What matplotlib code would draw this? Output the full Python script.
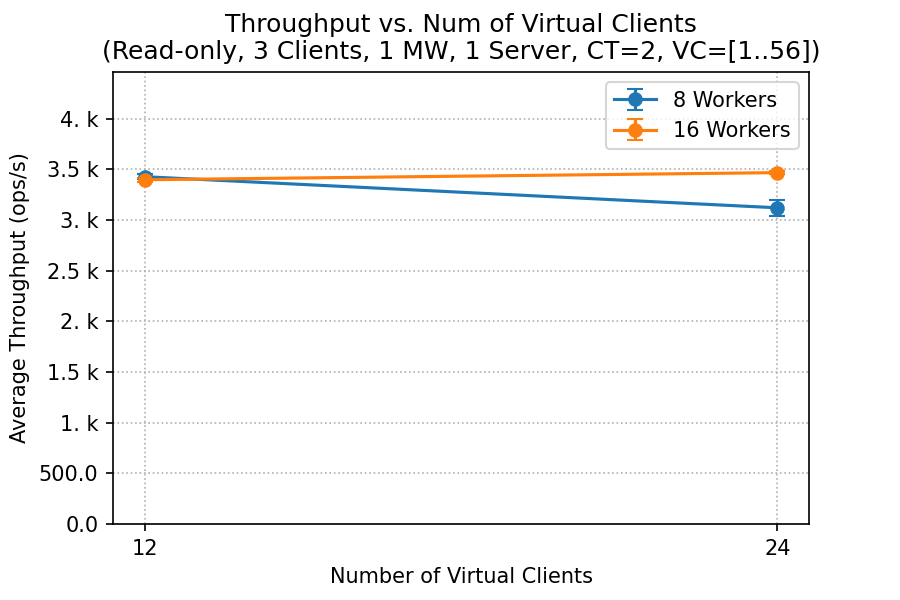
import matplotlib
matplotlib.use("Agg")
import matplotlib.pyplot as plt
from matplotlib.ticker import FixedLocator, FixedFormatter

vc = [12, 24]
w8 = [3427, 3120]
w8_err = [25, 78]
w16 = [3397, 3467]
w16_err = [20, 15]
ytick_vals = [0, 500, 1000, 1500, 2000, 2500, 3000, 3500, 4000]
ytick_labels = ["0.0", "500.0", "1. k", "1.5 k", "2. k", "2.5 k", "3. k", "3.5 k", "4. k"]

fig = plt.figure(figsize=(6, 4), dpi=150)
ax = fig.add_axes([113/900, 76/600, 696/900, 452/600])
ax.errorbar(vc, w8, yerr=w8_err, marker="o", capsize=4, color="#1f77b4", label="8 Workers")
ax.errorbar(vc, w16, yerr=w16_err, marker="o", capsize=4, color="#ff7f0e", label="16 Workers")
ax.set_xticks(vc)
ax.yaxis.set_major_locator(FixedLocator(ytick_vals))
ax.yaxis.set_major_formatter(FixedFormatter(ytick_labels))
ax.set_ylim(0, 4460)
ax.grid(True, linestyle=":", color="#b0b0b0")
ax.set_xlabel("Number of Virtual Clients")
ax.set_ylabel("Average Throughput (ops/s)")
ax.set_title("Throughput vs. Num of Virtual Clients\n(Read-only, 3 Clients, 1 MW, 1 Server, CT=2, VC=[1..56])")
ax.legend(loc="upper right")
fig.savefig("out.png", dpi=150)
